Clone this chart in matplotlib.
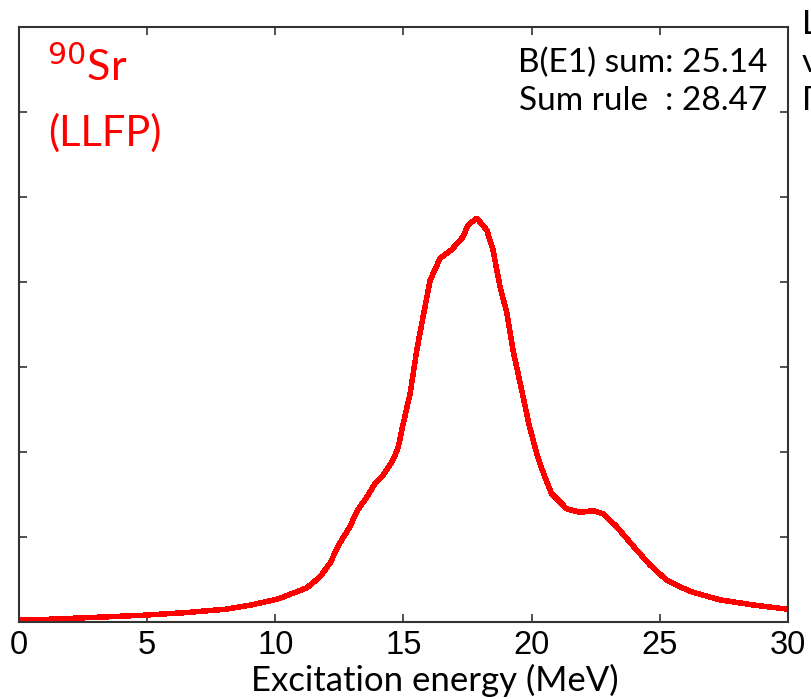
import numpy as np
import matplotlib.pyplot as plt

# E1 strength function of 90Sr (LLFP), arbitrary units
energy = [0.0, 1.0, 3.4, 4.9, 6.5, 8.06, 9.05, 10.1, 11.22, 11.74, 12.13, 12.52,
          12.91, 13.18, 13.57, 13.89, 14.21, 14.60, 14.80, 14.95, 15.26, 15.52,
          15.84, 16.04, 16.43, 16.88, 17.32, 17.52, 17.86, 18.25, 18.49, 18.77,
          19.03, 19.27, 19.61, 19.90, 20.20, 20.46, 20.78, 21.37, 21.89, 22.41,
          22.80, 23.32, 23.97, 24.62, 25.27, 26.18, 27.35, 28.65, 30.0]
strength = [0.02, 0.03, 0.06, 0.08, 0.11, 0.15, 0.20, 0.27, 0.40, 0.53, 0.69, 0.93,
            1.12, 1.30, 1.47, 1.63, 1.73, 1.91, 2.06, 2.28, 2.69, 3.20,
            3.71, 4.02, 4.28, 4.38, 4.53, 4.67, 4.75, 4.61, 4.38, 3.94,
            3.64, 3.20, 2.73, 2.32, 1.98, 1.75, 1.51, 1.33, 1.29, 1.31,
            1.27, 1.12, 0.89, 0.67, 0.49, 0.36, 0.26, 0.20, 0.15]
xticks = [0, 5, 10, 15, 20, 25, 30]

txt_font = ['Lato', 'DejaVu Sans']
num_font = ['Liberation Sans', 'DejaVu Sans']

fig = plt.figure(figsize=(8.11, 6.99), dpi=100)
ax = fig.add_axes([0.0234, 0.1102, 0.9482, 0.8512])

ax.plot(energy, strength, color='red', linewidth=3.2, antialiased=False)

ax.set_xlim(0, 30)
ax.set_ylim(0, 7)
ax.set_xticks(xticks)
ax.set_yticks(range(8))
ax.set_yticklabels([])
ax.tick_params(direction='in', top=True, right=True, length=6, width=1.2,
               colors='#333333', pad=6)
for lab in ax.get_xticklabels():
    lab.set_fontfamily(num_font)
    lab.set_fontsize(23.5)
    lab.set_color('black')
for s in ax.spines.values():
    s.set_color('#333333')
    s.set_linewidth(1.5)

ax.set_xlabel('Excitation energy (MeV)', family=txt_font, fontsize=25, labelpad=2)
ax.xaxis.label.set_x(0.541)

ax.text(0.037, 0.91, r'$^{90}$Sr', transform=ax.transAxes, color='red',
        family=txt_font, fontsize=31, va='baseline')
ax.text(0.038, 0.80, '(LLFP)', transform=ax.transAxes, color='red',
        family=txt_font, fontsize=30, va='baseline')

fig.text(767/811, 1 - 72/699, 'B(E1) sum: 25.14', ha='right', va='baseline',
         family=txt_font, fontsize=24)
fig.text(767/811, 1 - 110/699, 'Sum rule  : 28.47', ha='right', va='baseline',
         family=txt_font, fontsize=24)

# neighbouring panel's legend, cut by the figure edge
for yb, s in [(34, 'L'), (72, 'v'), (110, 'Γ')]:
    fig.text(802/811, 1 - yb/699, s, ha='left', va='baseline',
             family=txt_font, fontsize=24)

plt.savefig('out.png', dpi=100)
